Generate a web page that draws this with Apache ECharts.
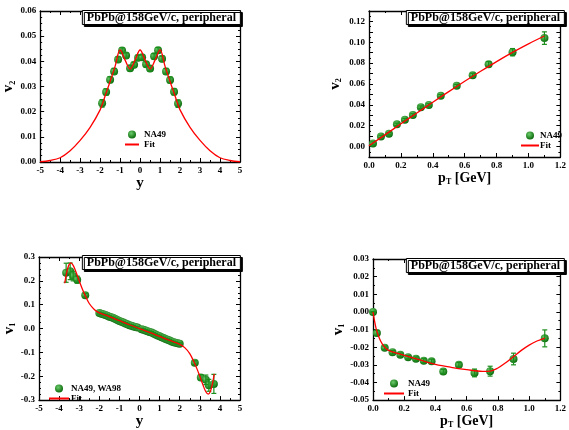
<!DOCTYPE html>
<html>
<head>
<meta charset="utf-8">
<script src="https://cdn.jsdelivr.net/npm/echarts@6/dist/echarts.min.js"></script>
<style>
html, body { margin: 0; padding: 0; background: #fff; }
#chart { width: 569px; height: 430px; }
</style>
</head>
<body>
<div id="chart"></div>
<script>
// top-left: v2 vs rapidity
var tlY = [-1.9, -1.7, -1.5, -1.3, -1.1, -0.9, -0.7, -0.5, -0.3, -0.1, 0.1, 0.3, 0.5, 0.7, 0.9, 1.1, 1.3, 1.5, 1.7, 1.9];
var tlV2 = [0.0233, 0.0278, 0.0327, 0.0360, 0.0407, 0.0443, 0.0423, 0.0373, 0.0386, 0.0414, 0.0416, 0.0388, 0.0372, 0.0420, 0.0444, 0.0410, 0.0360, 0.0326, 0.0279, 0.0232];
var tlErr = [0.0015, 0.0013, 0.0012, 0.0012, 0.0011, 0.0011, 0.0011, 0.0011, 0.0010, 0.0010, 0.0010, 0.0010, 0.0011, 0.0011, 0.0011, 0.0011, 0.0012, 0.0012, 0.0013, 0.0015];
var tlFitY = [-5, -4.5, -4, -3.5, -3, -2.5, -2, -1.75, -1.5, -1.25, -1, -0.75, -0.5, -0.25, 0, 0.25, 0.5, 0.75, 1, 1.25, 1.5, 1.75, 2, 2.5, 3, 3.5, 4, 4.5, 5];
var tlFitV2 = [0.0001, 0.0006, 0.0017, 0.0045, 0.0086, 0.0138, 0.0207, 0.0262, 0.0320, 0.0380, 0.0445, 0.0405, 0.0370, 0.0405, 0.0445, 0.0405, 0.0370, 0.0405, 0.0445, 0.0380, 0.0320, 0.0262, 0.0207, 0.0138, 0.0086, 0.0045, 0.0017, 0.0006, 0.0001];

// top-right: v2 vs pT
var trPt = [0.025, 0.075, 0.125, 0.175, 0.225, 0.275, 0.325, 0.375, 0.45, 0.55, 0.65, 0.75, 0.9, 1.1];
var trV2 = [0.0030, 0.0097, 0.0123, 0.0213, 0.0258, 0.0303, 0.0378, 0.0399, 0.0487, 0.0583, 0.0685, 0.0790, 0.0905, 0.1040];
var trErr = [0.0015, 0.0012, 0.0012, 0.0012, 0.0012, 0.0012, 0.0012, 0.0012, 0.0012, 0.0013, 0.0018, 0.0025, 0.0035, 0.0060];
var trFitPt = [0, 0.1, 0.2, 0.3, 0.4, 0.5, 0.6, 0.7, 0.8, 0.9, 1.0, 1.1];
var trFitV2 = [0.0008, 0.0112, 0.0218, 0.0322, 0.0425, 0.0527, 0.0626, 0.0722, 0.0815, 0.0903, 0.0985, 0.1060];

// bottom-left: v1 vs rapidity
var blY = [-3.65, -3.45, -3.3, -3.1, -2.7,
    -2.0, -1.9, -1.8, -1.7, -1.6, -1.5, -1.4, -1.3, -1.2, -1.1, -1.0, -0.9, -0.8, -0.7, -0.6, -0.5, -0.4, -0.3, -0.2, -0.1,
    0.1, 0.2, 0.3, 0.4, 0.5, 0.6, 0.7, 0.8, 0.9, 1.0, 1.1, 1.2, 1.3, 1.4, 1.5, 1.6, 1.7, 1.8, 1.9, 2.0,
    2.75, 3.05, 3.3, 3.45, 3.7];
var blV1 = [0.234, 0.240, 0.220, 0.205, 0.140,
    0.065, 0.062, 0.060, 0.057, 0.054, 0.050, 0.047, 0.044, 0.040, 0.036, 0.032, 0.028, 0.025, 0.021, 0.018, 0.014, 0.012, 0.009, 0.006, 0.004,
    -0.003, -0.005, -0.008, -0.011, -0.014, -0.017, -0.021, -0.025, -0.029, -0.032, -0.036, -0.040, -0.044, -0.047, -0.050, -0.054, -0.057, -0.060, -0.062, -0.064,
    -0.143, -0.205, -0.215, -0.238, -0.232];
var blErr = [0.040, 0.035, 0.020, 0.015, 0.008,
    0.004, 0.004, 0.004, 0.004, 0.004, 0.004, 0.004, 0.004, 0.004, 0.004, 0.004, 0.004, 0.004, 0.004, 0.004, 0.004, 0.004, 0.004, 0.004, 0.004,
    0.004, 0.004, 0.004, 0.004, 0.004, 0.004, 0.004, 0.004, 0.004, 0.004, 0.004, 0.004, 0.004, 0.004, 0.004, 0.004, 0.004, 0.004, 0.004, 0.004,
    0.008, 0.012, 0.020, 0.025, 0.040];
var blFitY = [-3.72, -3.62, -3.52, -3.42, -3.3, -3.15, -3.0, -2.85, -2.7, -2.5, -2.25, -2.0, -1.5, -1.0, -0.5, 0,
    0.5, 1.0, 1.5, 2.0, 2.25, 2.5, 2.7, 2.85, 3.0, 3.15, 3.3, 3.42, 3.52, 3.62, 3.72];
var blFitV1 = [0.190, 0.235, 0.265, 0.275, 0.265, 0.235, 0.200, 0.167, 0.138, 0.105, 0.080, 0.066, 0.050, 0.033, 0.016, 0.0,
    -0.016, -0.033, -0.050, -0.066, -0.080, -0.105, -0.138, -0.167, -0.200, -0.235, -0.265, -0.275, -0.265, -0.235, -0.190];

// bottom-right: v1 vs pT
var brPt = [0, 0.025, 0.075, 0.125, 0.175, 0.225, 0.275, 0.325, 0.375, 0.45, 0.55, 0.65, 0.75, 0.9, 1.1];
var brV1 = [0.0, -0.0120, -0.0203, -0.0229, -0.0243, -0.0257, -0.0265, -0.0277, -0.0280, -0.0338, -0.0300, -0.0346, -0.0336, -0.0267, -0.0150];
var brErr = [0.0003, 0.0015, 0.0010, 0.0010, 0.0010, 0.0010, 0.0010, 0.0012, 0.0012, 0.0012, 0.0013, 0.0022, 0.0028, 0.0033, 0.0048];
var brFitPt = [0, 0.02, 0.04, 0.06, 0.08, 0.1, 0.15, 0.2, 0.3, 0.4, 0.5, 0.6, 0.7, 0.75, 0.8, 0.85, 0.9, 0.95, 1.0, 1.05, 1.1];
var brFitV1 = [0, -0.0095, -0.0148, -0.0183, -0.0205, -0.0218, -0.0234, -0.0246, -0.0272, -0.0297, -0.0314, -0.0327, -0.0337, -0.0336, -0.0318, -0.0288, -0.0253, -0.0218, -0.0188, -0.0165, -0.0148];

var titleText = 'PbPb@158GeV/c, peripheral';
var serif = 'Liberation Serif';
var dotColor = {
    type: 'radial', x: 0.4, y: 0.35, r: 0.65,
    colorStops: [{offset: 0, color: '#6ccd6c'}, {offset: 1, color: '#0b6a0b'}]
};

function pairs(xs, ys) {
    return xs.map(function (x, i) { return [x, ys[i]]; });
}

function xAx(grid, min, max, step, minor, fmt, name, gap, top) {
    return {
        gridIndex: grid, type: 'value', min: min, max: max, interval: step,
        position: top ? 'top' : 'bottom',
        axisLine: {onZero: false, lineStyle: {color: '#000', width: 1.3}},
        axisTick: {inside: true, length: 4, lineStyle: {color: '#000'}},
        minorTick: {show: true, splitNumber: minor, length: 2, lineStyle: {color: '#000'}},
        splitLine: {show: false},
        axisLabel: {show: !top, formatter: fmt, margin: 4, color: '#000', fontFamily: serif, fontWeight: 'bold', fontSize: 9, showMinLabel: true, showMaxLabel: true},
        name: top ? '' : name, nameLocation: 'middle', nameGap: gap,
        nameTextStyle: {color: '#000', fontFamily: serif, fontWeight: 'bold', fontSize: 15,
            rich: {
                p: {fontFamily: serif, fontWeight: 'bold', fontSize: 14, color: '#000'},
                s: {fontFamily: serif, fontWeight: 'bold', fontSize: 8, color: '#000', padding: [8, 0, 0, 0]}
            }}
    };
}

function yAx(grid, min, max, step, minor, fmt, name, gap, right) {
    return {
        gridIndex: grid, type: 'value', min: min, max: max, interval: step,
        position: right ? 'right' : 'left',
        axisLine: {onZero: false, lineStyle: {color: '#000', width: 1.3}},
        axisTick: {inside: true, length: 4, lineStyle: {color: '#000'}},
        minorTick: {show: true, splitNumber: minor, length: 2, lineStyle: {color: '#000'}},
        splitLine: {show: false},
        axisLabel: {show: !right, formatter: fmt, margin: 4, color: '#000', fontFamily: serif, fontWeight: 'bold', fontSize: 9, showMinLabel: true, showMaxLabel: true},
        name: right ? '' : name, nameLocation: 'middle', nameGap: gap, nameRotate: 90,
        nameTextStyle: {color: '#000',
            rich: {
                v: {fontFamily: serif, fontWeight: 'bold', fontSize: 15, color: '#000'},
                s: {fontFamily: serif, fontWeight: 'bold', fontSize: 8, color: '#000', padding: [8, 0, 0, 0]}
            }}
    };
}

function errBars(xs, ys, es, idx) {
    return {
        type: 'custom', xAxisIndex: idx, yAxisIndex: idx, z: 4, silent: true,
        data: xs.map(function (x, i) { return [x, ys[i] - es[i], ys[i] + es[i]]; }),
        renderItem: function (params, api) {
            var lo = api.coord([api.value(0), api.value(1)]);
            var hi = api.coord([api.value(0), api.value(2)]);
            var w = 2.5;
            var st = {stroke: '#1a8e1a', lineWidth: 1.2};
            return {type: 'group', children: [
                {type: 'line', shape: {x1: lo[0], y1: lo[1], x2: hi[0], y2: hi[1]}, style: st},
                {type: 'line', shape: {x1: lo[0] - w, y1: lo[1], x2: lo[0] + w, y2: lo[1]}, style: st},
                {type: 'line', shape: {x1: hi[0] - w, y1: hi[1], x2: hi[0] + w, y2: hi[1]}, style: st}
            ]};
        }
    };
}

function dots(name, xs, ys, idx) {
    return {
        name: name, type: 'scatter', xAxisIndex: idx, yAxisIndex: idx, z: 3,
        symbol: 'circle', symbolSize: 8,
        itemStyle: {color: dotColor, opacity: 1},
        data: pairs(xs, ys)
    };
}

function fit(xs, ys, idx) {
    return {
        name: 'Fit', type: 'line', xAxisIndex: idx, yAxisIndex: idx, z: 5,
        smooth: 0.35, showSymbol: false, symbol: 'none',
        lineStyle: {color: '#ff0000', width: 1.3},
        itemStyle: {color: '#ff0000'},
        data: pairs(xs, ys)
    };
}

function legendAt(left, top, first, w, shift) {
    return {
        left: left, top: top, orient: 'vertical', itemGap: 1, itemWidth: w, itemHeight: 8,
        textStyle: {fontFamily: serif, fontWeight: 'bold', fontSize: 9, color: '#000', padding: [0, 0, 0, shift]},
        data: [first, {name: 'Fit', itemStyle: {opacity: 0}}], selectedMode: false
    };
}

function titleAt(right, top) {
    return {
        text: titleText, right: right, top: top, padding: [1, 5],
        backgroundColor: '#fff', borderColor: '#000', borderWidth: 1,
        shadowColor: '#000', shadowOffsetX: 2, shadowOffsetY: 2, shadowBlur: 0,
        textStyle: {fontFamily: serif, fontWeight: 'bold', fontSize: 12, color: '#000', lineHeight: 13}
    };
}

var intFmt = function (v) { return String(Math.round(v)); };
var f1 = function (v) { return v.toFixed(1); };
var f2 = function (v) { return v.toFixed(2); };
var f2even = function (v) { return Math.round(v * 100) % 2 === 0 ? v.toFixed(2) : ''; };

var option = {
    animation: false,
    backgroundColor: '#fff',
    title: [titleAt(328, 10), titleAt(4, 10), titleAt(328, 255), titleAt(4, 258)],
    legend: [
        legendAt(119, 125, 'NA49', 14, 0),
        legendAt(515, 126, 'NA49', 18, -4),
        legendAt(43, 379, 'NA49, WA98', 20, -3),
        legendAt(378, 374, 'NA49', 20, -1)
    ],
    grid: [
        {left: 38, top: 11, width: 202, height: 151},
        {left: 369, top: 11, width: 195, height: 146},
        {left: 39, top: 257, width: 201, height: 151},
        {left: 373, top: 259, width: 191, height: 144}
    ],
    xAxis: [
        xAx(0, -5, 5, 1, 2, intFmt, 'y', 11),
        xAx(1, 0, 1.2, 0.2, 2, f1, '{p|p}{s|T}{p| [GeV]}', 12),
        xAx(2, -5, 5, 1, 2, intFmt, 'y', 11),
        xAx(3, 0, 1.2, 0.2, 2, f1, '{p|p}{s|T}{p| [GeV]}', 12),
        xAx(0, -5, 5, 1, 2, intFmt, '', 0, true),
        xAx(1, 0, 1.2, 0.2, 2, f1, '', 0, true),
        xAx(2, -5, 5, 1, 2, intFmt, '', 0, true),
        xAx(3, 0, 1.2, 0.2, 2, f1, '', 0, true)
    ],
    yAxis: [
        yAx(0, 0, 0.06, 0.01, 4, f2, '{v|v}{s|2}', 20),
        yAx(1, -0.01, 0.13, 0.01, 2, f2even, '{v|v}{s|2}', 26),
        yAx(2, -0.3, 0.3, 0.1, 4, f1, '{v|v}{s|1}', 19),
        yAx(3, -0.05, 0.03, 0.01, 2, f2, '{v|v}{s|1}', 27),
        yAx(0, 0, 0.06, 0.01, 4, f2, '', 0, true),
        yAx(1, -0.01, 0.13, 0.01, 2, f2even, '', 0, true),
        yAx(2, -0.3, 0.3, 0.1, 4, f1, '', 0, true),
        yAx(3, -0.05, 0.03, 0.01, 2, f2, '', 0, true)
    ],
    series: [
        fit(tlFitY, tlFitV2, 0),
        dots('NA49', tlY, tlV2, 0),
        errBars(tlY, tlV2, tlErr, 0),
        fit(trFitPt, trFitV2, 1),
        dots('NA49', trPt, trV2, 1),
        errBars(trPt, trV2, trErr, 1),
        fit(blFitY, blFitV1, 2),
        dots('NA49, WA98', blY, blV1, 2),
        errBars(blY, blV1, blErr, 2),
        fit(brFitPt, brFitV1, 3),
        dots('NA49', brPt, brV1, 3),
        errBars(brPt, brV1, brErr, 3)
    ]
};

var myChart = echarts.init(document.getElementById('chart'));
myChart.setOption(option);
</script>
</body>
</html>
